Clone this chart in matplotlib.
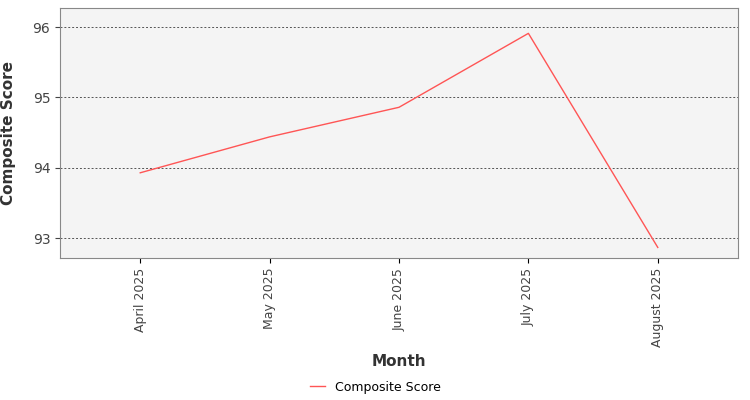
import matplotlib
matplotlib.use("Agg")
import matplotlib.pyplot as plt

months = ["April 2025", "May 2025", "June 2025", "July 2025", "August 2025"]
scores = [93.93, 94.44, 94.86, 95.91, 92.87]

fig = plt.figure(figsize=(7.5, 4.0), dpi=100)
ax = fig.add_axes([60/750, 1-258/400, 678/750, 250/400])
ax.set_facecolor("#f4f4f4")
x = list(range(len(months)))
ax.plot(x, scores, color="#ff5555", lw=1, label="Composite Score")
ax.set_xlim(-0.62, 4.62)
ax.set_ylim(92.72, 96.27)
ax.set_xticks(x)
ax.set_xticklabels(months, rotation=90, fontsize=9, color="#444444")
ax.set_yticks([93, 94, 95, 96])
ax.tick_params(axis="y", labelsize=10, colors="#444444")
ax.grid(axis="y", color="#555555", linestyle=(0, (2, 2)), lw=0.7)
for s in ax.spines.values():
    s.set_color("#888888")
ax.set_xlabel("Month", fontsize=11, color="#333333", fontweight="bold")
ax.set_ylabel("Composite Score", fontsize=11, color="#333333", fontweight="bold")
ax.xaxis.set_label_coords(0.5, -0.385)
ax.yaxis.set_label_coords(-0.065, 0.5)
fig.legend(loc="center", bbox_to_anchor=(375/750, 1-387/400), frameon=False, fontsize=9, handlelength=1.2)
fig.savefig("out.png")
